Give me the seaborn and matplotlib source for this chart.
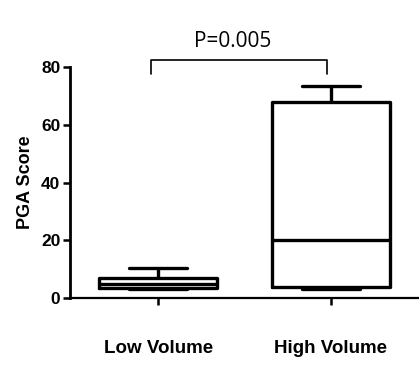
import matplotlib
matplotlib.use("Agg")
import matplotlib.pyplot as plt
import seaborn as sns
import pandas as pd

groups = ["Low Volume", "High Volume"]
low_values = [3.0, 3.5, 5.0, 7.0, 10.5]
high_values = [3.0, 4.0, 20.0, 68.0, 73.5]
y_ticks = [0, 20, 40, 60, 80]
p_label = "P=0.005"

df = pd.DataFrame({
    "group": [groups[0]] * len(low_values) + [groups[1]] * len(high_values),
    "score": low_values + high_values,
})

sns.set_style("ticks")
plt.rcParams["font.family"] = ["Liberation Sans", "DejaVu Sans"]
for k in ["text.color", "axes.labelcolor", "xtick.color", "ytick.color", "axes.edgecolor"]:
    plt.rcParams[k] = "black"

fig = plt.figure(figsize=(4.19, 3.76), dpi=100)
ax = fig.add_axes([0.167, 0.207, 0.833, 0.615])

sns.boxplot(data=df, x="group", y="score", order=groups, whis=(0, 100),
            width=0.68, fill=False, color="black", linecolor="black",
            linewidth=2.4, ax=ax)

ax.set_xlim(-0.51, 1.51)
ax.set_ylim(0, 80)
ax.set_yticks(y_ticks)
ax.set_yticklabels([str(t) for t in y_ticks], fontsize=12.5, fontweight="bold")
ax.set_xticks([0, 1])
ax.set_xticklabels(groups, fontsize=13.5, fontweight="bold")
ax.tick_params(axis="x", length=5, width=1.8, pad=25)
ax.tick_params(axis="y", length=5, width=1.8, pad=2)
ax.set_xlabel("")
ax.set_ylabel("PGA Score", fontsize=13, fontweight="bold", labelpad=5)

for s in ["top", "right"]:
    ax.spines[s].set_visible(False)
ax.spines["left"].set_linewidth(2)
ax.spines["bottom"].set_linewidth(1.6)

# significance bracket
yb = 82.5
ax.plot([-0.04, -0.04, 0.98, 0.98], [77.5, yb, yb, 77.5], color="black",
        linewidth=1.2, clip_on=False)
ax.text(0.43, 85.3, p_label, ha="center", va="bottom", fontsize=15,
        family=["Open Sans", "DejaVu Sans"])

fig.savefig("out.png", dpi=100)
